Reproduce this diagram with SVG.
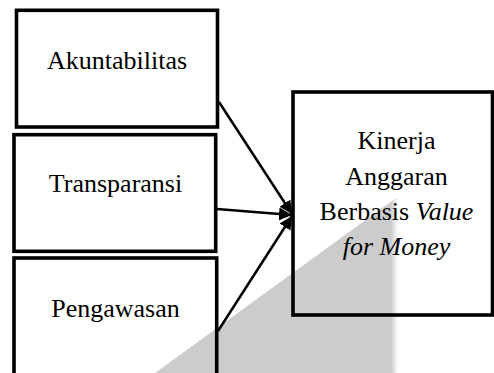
<svg xmlns="http://www.w3.org/2000/svg" width="494" height="373" viewBox="0 0 494 373">
  <style>
    .box { fill: none; stroke: #000; stroke-width: 3.6; }
    .lbl { font-family: "Liberation Serif", "Times New Roman", serif; font-size: 26px; fill: #000; text-anchor: middle; }
    .edge { fill: none; stroke: #000; stroke-width: 2.5; }
  </style>
  <defs>
    <marker id="arr" markerUnits="userSpaceOnUse" markerWidth="14" markerHeight="14" refX="13" refY="7" orient="auto">
      <path d="M0,0.5 L13,7 L0,13.5 z" fill="#000"/>
    </marker>
    <linearGradient id="fade" gradientUnits="userSpaceOnUse" x1="391" y1="0" x2="398" y2="0">
      <stop offset="0" stop-color="#cccccc"/>
      <stop offset="1" stop-color="#ffffff"/>
    </linearGradient>
  </defs>
  <rect width="494" height="373" fill="#fff"/>
  <polygon points="155,373 396,198 398,198 398,373" fill="url(#fade)"/>

  <g id="akuntabilitas">
    <rect class="box" x="16.5" y="10.3" width="201" height="116.7"/>
    <text class="lbl" x="117" y="69">Akuntabilitas</text>
  </g>
  <g id="transparansi">
    <rect class="box" x="14" y="134.7" width="201.7" height="116.6"/>
    <text class="lbl" x="115.5" y="191.5">Transparansi</text>
  </g>
  <g id="pengawasan">
    <rect class="box" x="14" y="258" width="202.7" height="140"/>
    <text class="lbl" x="115.5" y="316.5">Pengawasan</text>
  </g>
  <g id="kinerja">
    <rect class="box" x="293" y="92" width="199.5" height="223"/>
    <text class="lbl" x="396.5" y="149.3">Kinerja</text>
    <text class="lbl" x="396.5" y="184.5">Anggaran</text>
    <text class="lbl" x="396.5" y="219.8">Berbasis <tspan font-style="italic">Value</tspan></text>
    <text class="lbl" x="396.5" y="255" font-style="italic">for Money</text>
  </g>

  <g id="connectors">
    <line class="edge" x1="219" y1="102" x2="292" y2="214" marker-end="url(#arr)"/>
    <line class="edge" x1="217" y1="209" x2="292" y2="215" marker-end="url(#arr)"/>
    <line class="edge" x1="218" y1="331" x2="292" y2="216" marker-end="url(#arr)"/>
  </g>
</svg>
